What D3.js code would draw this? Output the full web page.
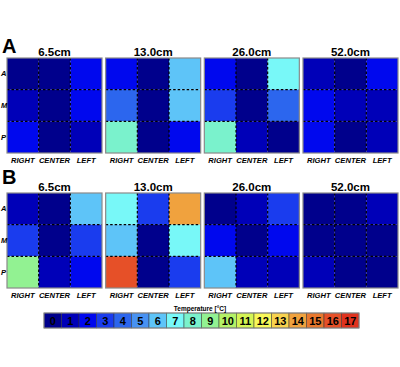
<!DOCTYPE html>
<html>
<head>
<meta charset="utf-8">
<script src="https://cdn.jsdelivr.net/npm/d3@7"></script>
<style>
  body { margin: 0; background: #fff; }
  text { font-family: "Liberation Sans", Arial, sans-serif; }
</style>
</head>
<body>
<svg id="chart" width="400" height="367"></svg>
<script>
// grid labels
const distances = ["6.5cm", "13.0cm", "26.0cm", "52.0cm"];
const rowsLab = ["A", "M", "P"];
const colsLab = ["RIGHT", "CENTER", "LEFT"];
const levels = d3.range(0, 18);

// temperature per cell, rows A/M/P, cols RIGHT/CENTER/LEFT
const panelA = [
  [[0, 0, 2], [1, 0, 2], [2, 0, 1]],
  [[2, 0, 6], [4, 0, 6], [8, 0, 2]],
  [[2, 0, 7], [3, 0, 4], [8, 1, 0]],
  [[1, 0, 2], [2, 1, 1], [2, 0, 1]]
];
const panelB = [
  [[1, 0, 6], [3, 0, 3], [9, 1, 2]],
  [[7, 3, 14], [6, 0, 7], [16, 0, 3]],
  [[0, 1, 3], [2, 0, 2], [6, 1, 1]],
  [[0, 0, 1], [0, 0, 0], [1, 0, 0]]
];

const palette = ["#00008c", "#0000b8", "#0008ee", "#1a3cee", "#2c66ee", "#4892f2",
  "#5ec4f8", "#78f8f8", "#7af2cc", "#92f292", "#b4f266", "#d4f454",
  "#f8f858", "#f8d24e", "#f0a23e", "#e8782e", "#e65028", "#e0321e"];

const svg = d3.select("#chart");
const color = d3.scaleOrdinal().domain(levels).range(palette);

const px = d3.scaleBand().domain(distances).range([7, 398]).paddingInner(0.037);
const cx = d3.scaleBand().domain(colsLab).range([0, px.bandwidth()]);

const drawRow = (label, data, top, labelY) => {
  const h = px.bandwidth();
  const ry = d3.scaleBand().domain(rowsLab).range([0, h]);
  const g = svg.append("g").attr("transform", "translate(0," + top + ")");

  svg.append("text")
    .attr("x", 2).attr("y", labelY)
    .attr("font-size", 20).attr("font-weight", "bold")
    .text(label);

  distances.forEach((d, i) => {
    const p = g.append("g").attr("transform", "translate(" + px(d) + ",0)");
    const cells = [];
    data[i].forEach((row, r) => row.forEach((v, c) => cells.push({r: rowsLab[r], c: colsLab[c], v: v})));

    p.selectAll("rect.cell").data(cells).enter().append("rect")
      .attr("class", "cell")
      .attr("x", k => cx(k.c)).attr("y", k => ry(k.r))
      .attr("width", cx.bandwidth()).attr("height", ry.bandwidth())
      .attr("fill", k => color(k.v));

    // dashed dividers
    [1, 2].forEach(j => {
      p.append("line")
        .attr("x1", cx(colsLab[j])).attr("x2", cx(colsLab[j]))
        .attr("y1", 0).attr("y2", h)
        .attr("stroke", "#000").attr("stroke-width", 1.2).attr("stroke-dasharray", "2.5,2");
      p.append("line")
        .attr("y1", ry(rowsLab[j])).attr("y2", ry(rowsLab[j]))
        .attr("x1", 0).attr("x2", px.bandwidth())
        .attr("stroke", "#000").attr("stroke-width", 1.2).attr("stroke-dasharray", "2.5,2");
    });

    p.append("rect")
      .attr("width", px.bandwidth()).attr("height", h)
      .attr("fill", "none").attr("stroke", "#8a8a8a").attr("stroke-width", 1.2);

    p.append("text")
      .attr("x", px.bandwidth() / 2).attr("y", -2.5)
      .attr("text-anchor", "middle")
      .attr("font-size", 11.5).attr("font-weight", "bold")
      .text(d);

    p.selectAll("text.col").data(colsLab).enter().append("text")
      .attr("class", "col")
      .attr("x", k => cx(k) + cx.bandwidth() / 2).attr("y", h + 9.5)
      .attr("text-anchor", "middle")
      .attr("font-size", 7.6).attr("font-weight", "bold").attr("font-style", "italic")
      .text(k => k);
  });

  g.selectAll("text.row").data(rowsLab).enter().append("text")
    .attr("class", "row")
    .attr("x", 1).attr("y", k => ry(k) + ry.bandwidth() / 2 + 2.5)
    .attr("font-size", 7.5).attr("font-weight", "bold").attr("font-style", "italic")
    .text(k => k);
};

drawRow("A", panelA, 58, 53);
drawRow("B", panelB, 193, 184);

// colour bar
const bx = d3.scaleBand().domain(levels).range([44, 359]);
const bar = svg.append("g");
bar.selectAll("rect").data(levels).enter().append("rect")
  .attr("x", d => bx(d)).attr("y", 313)
  .attr("width", bx.bandwidth()).attr("height", 15)
  .attr("fill", d => color(d))
  .attr("stroke", "#333").attr("stroke-width", 0.5);
bar.append("rect")
  .attr("x", 44).attr("y", 313).attr("width", 315).attr("height", 15)
  .attr("fill", "none").attr("stroke", "#8a8a8a").attr("stroke-width", 1);
bar.selectAll("text.num").data(levels).enter().append("text")
  .attr("class", "num")
  .attr("x", d => bx(d) + bx.bandwidth() / 2).attr("y", 324.8)
  .attr("text-anchor", "middle")
  .attr("font-size", 11).attr("font-weight", "bold")
  .attr("fill", "#000")
  .text(d => d);
bar.append("text")
  .attr("x", 200).attr("y", 310.5)
  .attr("text-anchor", "middle")
  .attr("font-size", 6.5).attr("font-weight", "bold")
  .text("Temperature [\u00b0C]");
</script>
</body>
</html>
